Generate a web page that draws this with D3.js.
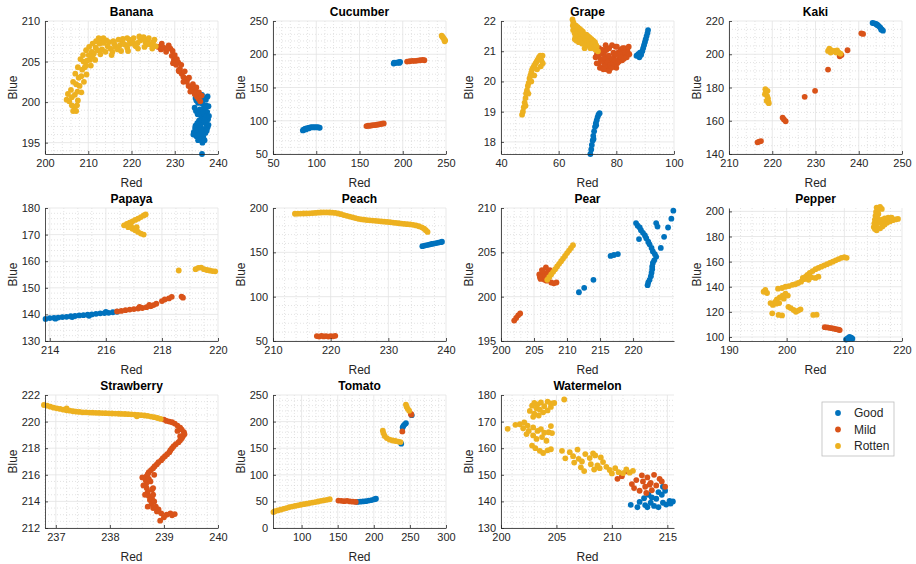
<!DOCTYPE html>
<html><head><meta charset="utf-8">
<script src="https://cdn.jsdelivr.net/npm/d3@7"></script>
<style>body{margin:0;background:#fff}svg{font-family:"Liberation Sans",Arial,sans-serif}</style>
</head><body><svg id="c" width="916" height="564"></svg>
<script>
// ---------------- DATA ----------------
const classNames = ["Good", "Mild", "Rotten"];

const bananaGood = [[236,200.6],[236.8,200.4],[237.6,200.7],[235.4,199.9],[236.4,199.8],[237.2,199.6],[235.8,199.1],[236.6,199.2],[237.5,198.8],[235.3,198.5],[236.1,198.3],[236.9,198.4],[237.7,197.9],[235.6,197.7],[236.5,197.5],[237.3,197.3],[234.8,197.1],[235.9,196.9],[236.8,196.7],[237.6,196.9],[234.4,196.3],[235.2,196.4],[236.3,196.1],[237.1,196.2],[235,195.8],[235.8,195.6],[236.6,195.7],[236.4,195],[236.3,193.6],[234.6,199.3],[235,200.2],[237,199],[235.5,196],[236,197.2],[234.8,200.5],[235.6,200.3],[236.3,200.9],[237.2,200.3],[234.9,198.9],[235.7,198.6],[236.5,198.8],[237.2,198.2],[235.2,197.4],[236,197.8],[236.9,197.7],[237.8,197.2],[234.7,196.8],[235.5,196.6],[236.2,196.5],[237.4,196.5],[235.4,195.3],[236.1,195.4],[236.9,195.3],[234.3,196],[237.9,198.3],[237.8,199.5]];
const bananaMild = [[226.2,206.8],[226.8,206.5],[227.4,206.7],[228,206.2],[228.6,207],[229,206.6],[229.3,205.7],[229.8,205.2],[230.3,204.6],[230.8,204.9],[231.2,204.1],[231.6,203.5],[232,203.1],[232.4,202.8],[232.8,202.5],[233.2,202],[233.7,201.8],[234.2,201.5],[234.6,201],[235.1,200.7],[235.5,200.4],[235.9,200.1],[230,205.8],[231,203.8],[233,202.9],[235,201.2],[227,207.2],[228.3,206.6],[229.5,206.3],[230.5,205.3],[231.5,204.6],[232.3,203.8],[233.3,203],[234.2,202.2],[235,201.8],[235.6,201.2],[236.2,200.8],[229.6,204.8],[230.9,203.9],[232,202.5],[233.6,201.3]];
const bananaRotten = [[205,200.3],[205.6,200.1],[206.2,200.6],[206.8,199.4],[207.2,198.9],[207.4,199.6],[206.9,200.9],[207.5,201.3],[207.2,202.2],[208,202],[207.8,203],[208.4,203.2],[208.6,204],[209.2,204.3],[208.9,205],[209.7,205.1],[210.1,205.8],[210.4,205.2],[210.8,206.2],[211.3,206],[211.7,206.7],[212.2,206.4],[212.6,207.2],[213,207.7],[213.6,207.3],[214.2,207.6],[214.5,206.9],[215.1,206.6],[215.6,206.2],[216.2,206.8],[216.8,206.5],[217.3,207],[217.9,207.4],[218.4,207.1],[219,206.7],[219.6,207.2],[220.2,207.4],[220.8,207],[221.4,207.3],[222,207.6],[222.6,207.8],[223.2,207.4],[223.8,207.6],[224.4,207.1],[225,207.4],[225.6,206.9],[209.5,204.5],[211,205.6],[213.2,206.5],[216,207.2],[219.5,207.7],[221,206.9],[223.5,207.1],[205.3,201],[206,201.5],[206.5,202.5],[207,203.5],[207.6,204.3],[208.2,205.3],[208.8,205.8],[209.5,206.4],[210.2,206.8],[211,207.2],[211.8,207.5],[212.4,207.9],[213.5,207.9],[214.8,207.4],[215.8,207.5],[217,207.7],[218,207.8],[219,207.9],[220.5,207.9],[221.8,208.1],[222.8,208],[224,207.9],[225.3,207.7],[206.2,199.6],[206.5,198.9],[207.6,200.2],[208.4,201.2],[209,202.5],[209.6,203.4],[210.6,204.5],[211.6,205.2],[212.8,205.9],[214,206.2],[215.4,205.8],[217.6,206.3],[219.2,206.3],[221.5,206.6],[223,206.8],[224.8,206.6]];

const cucumberGood = [[84.5,85.5],[86,87],[87.5,88],[89,88.5],[90.5,89],[92,89.5],[93.5,90],[95,90.5],[96.5,90],[98,90.5],[99.5,90],[101,90.5],[102.5,90],[104,89.5],[85.5,86.5],[88,87],[91,88.5],[189.5,186],[191,187],[192.5,187.5],[194,187.5],[195.5,188],[197,188.5],[190,187.5],[196,187]];
const cucumberMild = [[158,92],[160,92.5],[162,92.5],[164,93],[166,93.5],[168,93.5],[170,94],[172,94.5],[174,95],[176,95.5],[178,96],[205,189],[208,189.5],[211,190],[214,190],[217,190.5],[220,191],[223,191.5],[225,191]];
const cucumberRotten = [[245,228],[246,226],[247,224.5],[248,222.5],[249,221],[248.5,219.5]];

const grapeGood = [[87,20.85],[87.6,20.9],[88.2,20.95],[88.6,20.88],[89,21.0],[89.3,21.1],[89.6,21.2],[89.9,21.3],[90.2,21.4],[90.5,21.5],[90.8,21.6],[91,21.7],[88,20.8],[71,17.6],[71.3,17.75],[71.5,17.9],[71.8,18.05],[72,18.2],[72.3,18.35],[72.6,18.5],[72.9,18.62],[73.2,18.72],[73.5,18.82],[73.8,18.9],[74.2,18.95],[72.1,18.1],[73,18.55]];
const grapeMild = [[72.8,20.8],[73.5,20.95],[74,20.6],[74.5,20.75],[75,21.05],[75,20.45],[75.6,20.9],[76,20.6],[76.3,21.2],[76.8,20.8],[77.2,20.5],[77.5,21.1],[78,20.7],[78.5,21.2],[78.8,20.5],[79.3,20.85],[79.8,21.15],[80.3,20.6],[80.6,20.95],[81,20.75],[81.5,21.05],[82,20.7],[82.4,20.9],[82.8,21.1],[83.3,20.85],[83.8,21.05],[84.3,21.15],[74,21.1],[76,21.0],[79,20.95],[80,20.45],[76.5,20.4],[73.2,20.6],[73.8,20.85],[74.3,20.45],[74.8,21.0],[75.3,20.7],[75.8,20.5],[76.2,20.75],[76.6,21.05],[77,20.65],[77.4,20.85],[77.8,20.55],[78.3,20.45],[78.6,20.75],[79,20.6],[79.5,20.7],[80,20.9],[80.2,21.15],[80.8,20.65],[81.2,20.9],[81.7,20.8],[82.2,21.1],[82.6,20.75],[83,20.95],[83.6,20.8],[84,20.95],[84.5,20.9],[75.5,20.4],[77.5,20.35],[74.5,20.95],[73.3,20.9]];
const grapeRotten = [[47.3,18.9],[47.6,19.0],[47.9,19.15],[48.2,19.3],[48.5,19.45],[48.7,19.6],[49,19.7],[49.3,19.85],[49.6,19.95],[49.9,20.1],[50.2,20.2],[50.5,20.3],[50.8,20.4],[51.1,20.45],[51.4,20.5],[51.7,20.55],[52,20.6],[52.3,20.65],[52.6,20.7],[52.9,20.75],[53.2,20.8],[53.6,20.85],[54,20.7],[54.4,20.85],[54.5,20.6],[53.8,20.5],[52.5,20.4],[51.5,20.2],[50.5,20],[49.5,19.6],[48.5,19.2],[64.8,22.05],[65.2,21.9],[65,21.7],[65.5,21.6],[66,21.85],[66.4,21.65],[66.8,21.5],[67.2,21.75],[67.6,21.55],[68,21.4],[68.4,21.65],[68.8,21.45],[69.2,21.3],[69.6,21.55],[70,21.35],[70.4,21.2],[70.8,21.45],[71.2,21.3],[71.6,21.15],[72,21.35],[72.4,21.2],[72.8,21.05],[73.2,21.15],[73.6,21.0],[65.6,21.4],[67,21.3],[69,21.1],[65.3,21.75],[65.8,21.5],[66.2,21.35],[66.6,21.8],[67.4,21.4],[67.8,21.7],[68.2,21.25],[68.6,21.55],[69.4,21.45],[69.8,21.2],[70.2,21.5],[70.6,21.3],[71,21.1],[71.4,21.4],[71.8,21.25],[72.2,21.1],[72.6,21.3],[73,21.2],[65.1,21.95],[64.9,21.85]];

const kakiGood = [[243.2,218.8],[243.6,218.6],[244,218.2],[244.4,217.5],[244.7,216.8],[245,216],[245.3,215],[245.6,214.2],[244.2,217.8],[245.2,214.8]];
const kakiMild = [[216.6,147],[217,147.5],[217.4,147.8],[222.4,161.8],[222.7,160.8],[223.1,159.7],[227.5,174.4],[229.9,178],[232.9,190.8],[235.6,198.8],[236,199.5],[237.4,202.4],[240.6,212.6],[241,212.2]];
const kakiRotten = [[218.4,179],[218.5,177.5],[218.3,176],[218.8,175],[219,173.5],[218.7,172],[219.2,170.6],[218.9,178],[219.1,171.5],[232.9,202],[233.2,203.4],[233.6,202.5],[234,201.8],[234.5,202],[235,202.3],[235.4,201],[235.8,200.3],[233.5,201],[234.8,201]];

const papayaGood = [[213.85,138.3],[214,138.6],[214.15,138.7],[214.3,138.8],[214.45,139],[214.6,139.1],[214.75,139.3],[214.9,139.4],[215.05,139.6],[215.2,139.7],[215.35,139.9],[215.5,140],[215.65,140.2],[215.8,140.4],[215.95,140.5],[216.1,140.6],[216.25,140.8],[216.4,141],[214.2,138.4],[214.8,139],[215.4,139.5],[216,140.9]];
const papayaMild = [[216.4,141.1],[216.55,141.3],[216.7,141.6],[216.85,141.8],[217,142],[217.15,142.2],[217.3,142.4],[217.45,142.7],[217.6,143.1],[217.7,143.5],[217.8,144],[218,145],[218.1,145.6],[218.25,146],[218.35,146.6],[218.7,146.7],[218.75,146.3],[217.2,142.8],[217.55,143.6]];
const papayaRotten = [[216.65,173.5],[216.75,174],[216.85,174.5],[216.95,175],[217.05,175.5],[217.15,176],[217.25,176.6],[217.35,177.2],[217.42,177.6],[216.8,172.8],[216.95,172.2],[217.05,171.6],[217.15,171],[217.25,170.4],[217.35,170],[216.9,173.2],[217.1,172.8],[218.6,156.5],[219.2,157],[219.3,157.5],[219.4,157.6],[219.5,157],[219.6,156.7],[219.7,156.5],[219.8,156.3],[219.9,156.2]];

const peachGood = [[235.9,157],[236.3,157.6],[236.7,158.2],[237.1,158.8],[237.5,159.4],[237.9,159.9],[238.3,160.4],[238.7,161],[239.1,161.5],[239.3,162]];
const peachMild = [[217.6,55.5],[218,55],[218.4,55.8],[218.8,55.2],[219.2,55.6],[219.6,55],[220,55.5],[220.4,55.3],[220.8,55.8]];
const peachRotten = [[213.8,193.5],[214.3,193.6],[214.8,193.7],[215.3,193.8],[215.8,193.9],[216.3,194],[216.8,194.3],[217.3,194.5],[217.8,194.7],[218.3,194.9],[218.8,195],[219.3,195],[219.8,194.9],[220.3,194.7],[220.8,194.4],[221.3,193.8],[221.8,193],[222.3,192],[222.8,191.2],[223.3,190.3],[223.8,189.5],[224.3,188.6],[224.8,187.8],[225.3,187.2],[225.8,186.8],[226.3,186.4],[226.8,186.1],[227.3,185.8],[227.8,185.5],[228.3,185.2],[228.8,184.9],[229.3,184.6],[229.8,184.3],[230.3,184],[230.8,183.6],[231.3,183.2],[231.8,182.8],[232.3,182.4],[232.8,182],[233.3,181.8],[233.8,181.5],[234.3,181],[234.8,180.3],[235.3,179.4],[235.8,178.2],[236.2,176.6],[236.5,175],[236.8,173]];

const pearGood = [[211.8,200.5],[212.6,201],[214,201.9],[216.6,204.6],[217.1,204.7],[217.7,204.8],[220.45,208.3],[220.7,208],[221,207.8],[221.2,207.5],[221.5,207.2],[221.8,206.9],[222,206.6],[222.3,206.2],[222.5,205.9],[222.8,205.5],[223,205.1],[223.3,204.8],[223.5,204.5],[223.2,204.1],[223,203.8],[222.9,203.4],[222.9,203.1],[222.8,202.7],[222.7,202.3],[222.5,201.9],[222.3,201.6],[222.2,201.3],[220.9,206.5],[223.5,208.3],[223.7,207.9],[224.7,206.75],[224.2,205.5],[225.3,207.8],[225.8,208.8],[226.1,209.7]];
const pearMild = [[202,197.3],[202.3,197.6],[202.6,197.9],[202.9,198.1],[205.8,202.5],[206,202],[206.2,203],[206.4,202.4],[206.6,201.9],[206.8,203.3],[207,202.7],[207.2,202.2],[207.4,203],[207.6,201.6],[208,201.5],[208.4,201.6],[206.3,202.9],[206.9,201.8],[205.9,202.2],[207.3,202.5]];
const pearRotten = [[207,201.9],[207.3,202.2],[207.6,202.5],[207.9,202.8],[208.2,203.1],[208.5,203.4],[208.8,203.7],[209.1,204],[209.4,204.3],[209.7,204.6],[210,204.9],[210.3,205.2],[210.6,205.5],[210.9,205.8]];

const pepperGood = [[210.3,98],[210.6,99],[210.9,100],[211.2,99.5],[211.4,98.6],[210.8,98.3]];
const pepperMild = [[206.6,107.8],[207,107.6],[207.4,107.3],[207.8,107],[208.2,106.6],[208.6,106.2],[209,105.8],[209.2,105.5]];
const pepperRotten = [[215.6,203],[216.2,203.5],[216.5,202],[215.8,201],[215.5,199.5],[215.9,198],[215.4,196.5],[215.7,195],[215.3,193.5],[215.6,192],[215.2,190.5],[215.5,189],[215.1,187.5],[215.3,186],[215.6,185],[216.2,186.5],[216.6,188],[217,189.5],[217.4,191],[217.9,192],[218.4,193],[218.9,193.6],[219.3,194],[216.5,193.5],[217,194.5],[217.6,195],[218.2,195],[216.2,191],[216.8,192.5],[196,136],[196.3,137.5],[196.6,135],[198.5,138.5],[199.2,139],[199.8,140],[200.4,140.5],[201,141.5],[201.5,142],[202,143],[202.5,144],[203,146],[203.3,148],[203.6,149.5],[204,151],[204.5,152.5],[205,154],[205.5,155],[206,156],[206.5,157],[207,158],[207.5,159],[208,160],[208.5,161],[209,162],[209.5,163],[210,163.5],[210.4,163],[205.5,148],[205,147],[204.3,147.5],[203.8,145.5],[202.8,147],[197.2,127],[197.6,125.5],[198,128],[198.3,130],[198.8,131.5],[199.3,133],[199.8,134.5],[200.2,133],[199.5,130.5],[198.7,127],[200.3,124],[200.7,123],[201.2,121.5],[201.6,120],[202,121],[202.4,122],[197.5,118.8],[198.6,117.6],[199.2,117.2],[204.6,117.6],[205.2,117.8],[198.2,126.5]];

const strawberryMild = [[239,220.15],[239.1,220],[239.2,219.85],[239.3,219.55],[239.37,219.2],[239.35,218.9],[239.3,218.6],[239.22,218.3],[239.15,218],[239.1,217.7],[239.02,217.4],[238.95,217.1],[238.87,216.8],[238.8,216.5],[238.72,216.2],[238.68,215.9],[238.66,215.6],[238.67,215.3],[238.68,215],[238.7,214.7],[238.72,214.4],[238.74,214.1],[238.77,213.8],[238.8,213.5],[238.87,213.25],[238.95,213.1],[239.05,213],[239.15,212.95],[238.93,212.55],[239.12,213.1],[238.6,215.8],[238.8,215],[239.25,219.3],[239.3,218.9],[238.62,215.2],[238.78,214.2],[238.82,216],[239.05,220.05],[239.15,219.95],[239.25,219.7],[239.33,219.4],[239.38,219.05],[239.33,218.75],[239.27,218.45],[239.18,218.15],[239.12,217.85],[239.06,217.55],[238.98,217.25],[238.9,216.95],[238.83,216.65],[238.76,216.35],[238.7,216.05],[238.75,215.5],[238.78,214.9],[238.8,214.5],[238.82,214],[238.85,213.6],[238.9,213.4],[238.7,213.6],[238.65,214.5],[238.72,215.7],[239,212.8],[239.2,213.05]];
const strawberryRotten = [[236.78,221.25],[236.84,221.2],[236.9,221.12],[236.96,221.05],[237.02,221],[237.08,220.95],[237.14,220.9],[237.2,220.85],[237.26,220.82],[237.32,220.78],[237.38,220.75],[237.44,220.73],[237.5,220.7],[237.56,220.7],[237.62,220.68],[237.68,220.67],[237.74,220.66],[237.8,220.65],[237.86,220.64],[237.92,220.63],[237.98,220.62],[238.04,220.61],[238.1,220.6],[238.16,220.59],[238.22,220.58],[238.28,220.57],[238.34,220.56],[238.4,220.55],[238.46,220.53],[238.52,220.5],[238.58,220.48],[238.64,220.46],[238.7,220.43],[238.76,220.38],[238.82,220.33],[238.88,220.27],[238.94,220.2],[237.2,221],[238.5,220.4]];

const tomatoGood = [[177,49],[181,49.5],[185,50],[189,50.5],[193,51.5],[197,52.5],[201,54],[203,55],[238,158.5],[240,189],[241,192],[242.5,194.5],[244.5,197],[252.5,212]];
const tomatoMild = [[151,51.5],[155,51],[159,50.5],[163,51],[167,50],[171,49.5],[175,49],[239.5,181.5],[251.5,214.5],[252,213]];
const tomatoRotten = [[61,30],[63,31.5],[67,33],[71,34.5],[75,36],[79,37.5],[83,39],[87,40.3],[91,41.5],[95,42.6],[99,43.7],[103,44.8],[107,45.8],[111,46.8],[115,47.8],[119,48.8],[123,49.8],[127,51],[131,52],[135,53],[139,54],[212.5,183],[213.5,178],[215,173],[218,169],[222,166],[226,164.5],[230,163.5],[234,162.5],[237,161.5],[244.5,232],[245.5,228],[247,224],[249,220.5]];

const watermelonGood = [[211.7,138.7],[212.3,137.8],[212.5,139.8],[212.9,141.2],[213,138.6],[213.3,142.5],[213.5,139.5],[213.8,138.3],[214,141],[214.2,143.5],[214.5,142.5],[214.6,145.5],[214.8,144],[213.6,141.5],[214.6,139.5],[214.9,138.8],[215.2,140.2],[215.5,140],[215.3,139.2],[213.2,137.8],[214.2,137.8]];
const watermelonMild = [[210.5,148.5],[210.9,149.5],[211.3,151.3],[211.8,146.5],[212.2,148],[212.5,144],[212.8,147.5],[213,145.5],[213.2,149],[213.5,147],[213.8,150],[214,146],[214.3,148.5],[213.6,144.2],[212.7,149.8],[214.5,147.5],[213.1,143.2],[212,145],[214.8,145.5],[213.4,146.3]];
const watermelonRotten = [[202.8,176],[203,177],[203.3,176.5],[203.6,177.2],[203.2,175],[203.5,174.5],[203.9,175.8],[204.2,177.5],[204.5,176.8],[204.8,177],[202.6,174],[203,173],[203.4,172.3],[203.8,173.5],[204.2,174.2],[202.9,171.8],[205.7,178.3],[204.5,175.5],[200.6,167.3],[201.3,168.8],[201.7,169],[202.1,169.7],[202.4,168.5],[202,167.5],[202.5,166.5],[202.9,167.8],[203.3,166.5],[203.6,167.2],[203.9,165.8],[204.3,166],[204.6,165.7],[204.5,168.3],[202.3,165.3],[202.9,164.8],[203.2,163.5],[203.7,164.2],[204.1,162.8],[202.8,161],[203.1,160],[203.8,158.2],[204.2,159.2],[204.5,159.6],[203.5,159],[205.5,159],[205.8,156.2],[206.2,158.5],[206.5,157],[206.9,159.5],[207,156],[207.3,155],[207.6,157.8],[207.2,152.8],[207.5,151.4],[208,156.3],[208.3,158],[208.5,157.3],[208.1,154],[208.7,153.5],[208.9,152.5],[208.4,152],[209.2,154.8],[209.5,153],[209.8,151.8],[210,150.5],[210.3,152.5],[210.6,151],[211,150.6],[211.3,152],[211.6,150.8],[211.9,151.5],[206.6,154.6],[209,156.5]];

// axis domains and tick labels per panel
const fruitNames = ["Banana","Cucumber","Grape","Kaki","Papaya","Peach","Pear","Pepper","Strawberry","Tomato","Watermelon"];
const xDomains = [[200,240],[50,250],[40,100],[210,250],[213.83,220],[210,240],[200,226.2],[190,220],[236.8,240],[60.4,300],[200,215.6]];
const yDomains = [[193.6,210],[50,250],[17.6,22],[140,220],[130,180],[50,200],[195,210],[96.8,202.7],[212,222],[0,250],[130,180]];
const xTickValues = [[200,210,220,230,240],[50,100,150,200,250],[40,60,80,100],[210,220,230,240,250],[214,216,218,220],[210,220,230,240],[200,205,210,215,220],[190,200,210,220],[237,238,239,240],[100,150,200,250,300],[200,205,210,215]];
const yTickValues = [[195,200,205,210],[50,100,150,200,250],[18,19,20,21,22],[140,160,180,200,220],[130,140,150,160,170,180],[50,100,150,200],[195,200,205,210],[100,120,140,160,180,200],[212,214,216,218,220,222],[0,50,100,150,200,250],[130,140,150,160,170,180]];
const seriesByFruit = [
  [bananaGood, bananaMild, bananaRotten],
  [cucumberGood, cucumberMild, cucumberRotten],
  [grapeGood, grapeMild, grapeRotten],
  [kakiGood, kakiMild, kakiRotten],
  [papayaGood, papayaMild, papayaRotten],
  [peachGood, peachMild, peachRotten],
  [pearGood, pearMild, pearRotten],
  [pepperGood, pepperMild, pepperRotten],
  [[], strawberryMild, strawberryRotten],
  [tomatoGood, tomatoMild, tomatoRotten],
  [watermelonGood, watermelonMild, watermelonRotten]
];

// ---------------- STYLE / LAYOUT ----------------
const colors = ["#0072BD", "#D95319", "#EDB120"];
const colX = [45, 273, 501, 729];
const rowY = [21, 208, 395];
const PW = 173, PH = 133;
const R = 2.9;
const textCol = "#262626";

const svg = d3.select("#c");

function minorValues(ticks, dom) {
  const step = ticks[1] - ticks[0];
  const m = step / Math.pow(10, Math.floor(Math.log10(step) + 1e-9));
  const sub = Math.abs(m - 2) < 1e-6 ? 4 : 5;
  const ms = step / sub;
  const out = [];
  const start = Math.ceil((dom[0] - 1e-9) / ms) * ms;
  for (let v = start; v <= dom[1] + 1e-9; v += ms) {
    const r = Math.round(v / ms) * ms;
    const isMajor = Math.abs(r / step - Math.round(r / step)) < 1e-6;
    if (!isMajor) out.push(r);
  }
  return out;
}

fruitNames.forEach((name, i) => {
  const col = i % 4, row = Math.floor(i / 4);
  const g = svg.append("g").attr("transform", `translate(${colX[col]},${rowY[row]})`);
  const x = d3.scaleLinear().domain(xDomains[i]).range([0, PW]);
  const y = d3.scaleLinear().domain(yDomains[i]).range([PH, 0]);

  // minor grid
  const gm = g.append("g").attr("stroke", "#d0d0d0").attr("stroke-width", 0.6).attr("stroke-dasharray", "1,2");
  minorValues(xTickValues[i], xDomains[i]).forEach(v => gm.append("line").attr("x1", x(v)).attr("x2", x(v)).attr("y1", 0).attr("y2", PH));
  minorValues(yTickValues[i], yDomains[i]).forEach(v => gm.append("line").attr("y1", y(v)).attr("y2", y(v)).attr("x1", 0).attr("x2", PW));
  // major grid
  const gg = g.append("g").attr("stroke", "#e3e3e3").attr("stroke-width", 0.8);
  xTickValues[i].forEach(v => gg.append("line").attr("x1", x(v)).attr("x2", x(v)).attr("y1", 0).attr("y2", PH));
  yTickValues[i].forEach(v => gg.append("line").attr("y1", y(v)).attr("y2", y(v)).attr("x1", 0).attr("x2", PW));

  // points
  seriesByFruit[i].forEach((pts, k) => {
    g.append("g").attr("fill", colors[k]).selectAll("circle").data(pts).join("circle")
      .attr("cx", d => x(d[0])).attr("cy", d => y(d[1])).attr("r", R);
  });

  // axes
  const fmt = d => String(d);
  const ax = g.append("g").attr("transform", `translate(0,${PH})`)
    .call(d3.axisBottom(x).tickValues(xTickValues[i]).tickFormat(fmt).tickSize(-3).tickPadding(5).tickSizeOuter(0));
  const ay = g.append("g")
    .call(d3.axisLeft(y).tickValues(yTickValues[i]).tickFormat(fmt).tickSize(-3).tickPadding(5).tickSizeOuter(0));
  [ax, ay].forEach(a => {
    a.select(".domain").attr("stroke", textCol).attr("stroke-width", 0.8);
    a.selectAll(".tick line").attr("stroke", textCol).attr("stroke-width", 0.8);
    a.selectAll("text").attr("fill", textCol).style("font-size", "11px");
  });

  g.append("text").attr("x", PW / 2).attr("y", -5).attr("text-anchor", "middle")
    .style("font-size", "12px").style("font-weight", "bold").attr("fill", "#000").text(name);
  g.append("text").attr("x", PW / 2).attr("y", PH + 33).attr("text-anchor", "middle")
    .style("font-size", "12px").attr("fill", textCol).text("Red");
  g.append("text").attr("transform", `translate(-28,${PH / 2}) rotate(-90)`).attr("text-anchor", "middle")
    .style("font-size", "12px").attr("fill", textCol).text("Blue");
});

// legend
const lg = svg.append("g").attr("transform", "translate(822,402)");
lg.append("rect").attr("width", 72).attr("height", 54).attr("fill", "#fff").attr("stroke", "#bdbdbd").attr("stroke-width", 0.8);
classNames.forEach((c, k) => {
  lg.append("circle").attr("cx", 16).attr("cy", 11 + k * 16.5).attr("r", R).attr("fill", colors[k]);
  lg.append("text").attr("x", 32).attr("y", 11 + k * 16.5).attr("dy", "0.35em").style("font-size", "12px").attr("fill", textCol).text(c);
});
</script></body></html>
